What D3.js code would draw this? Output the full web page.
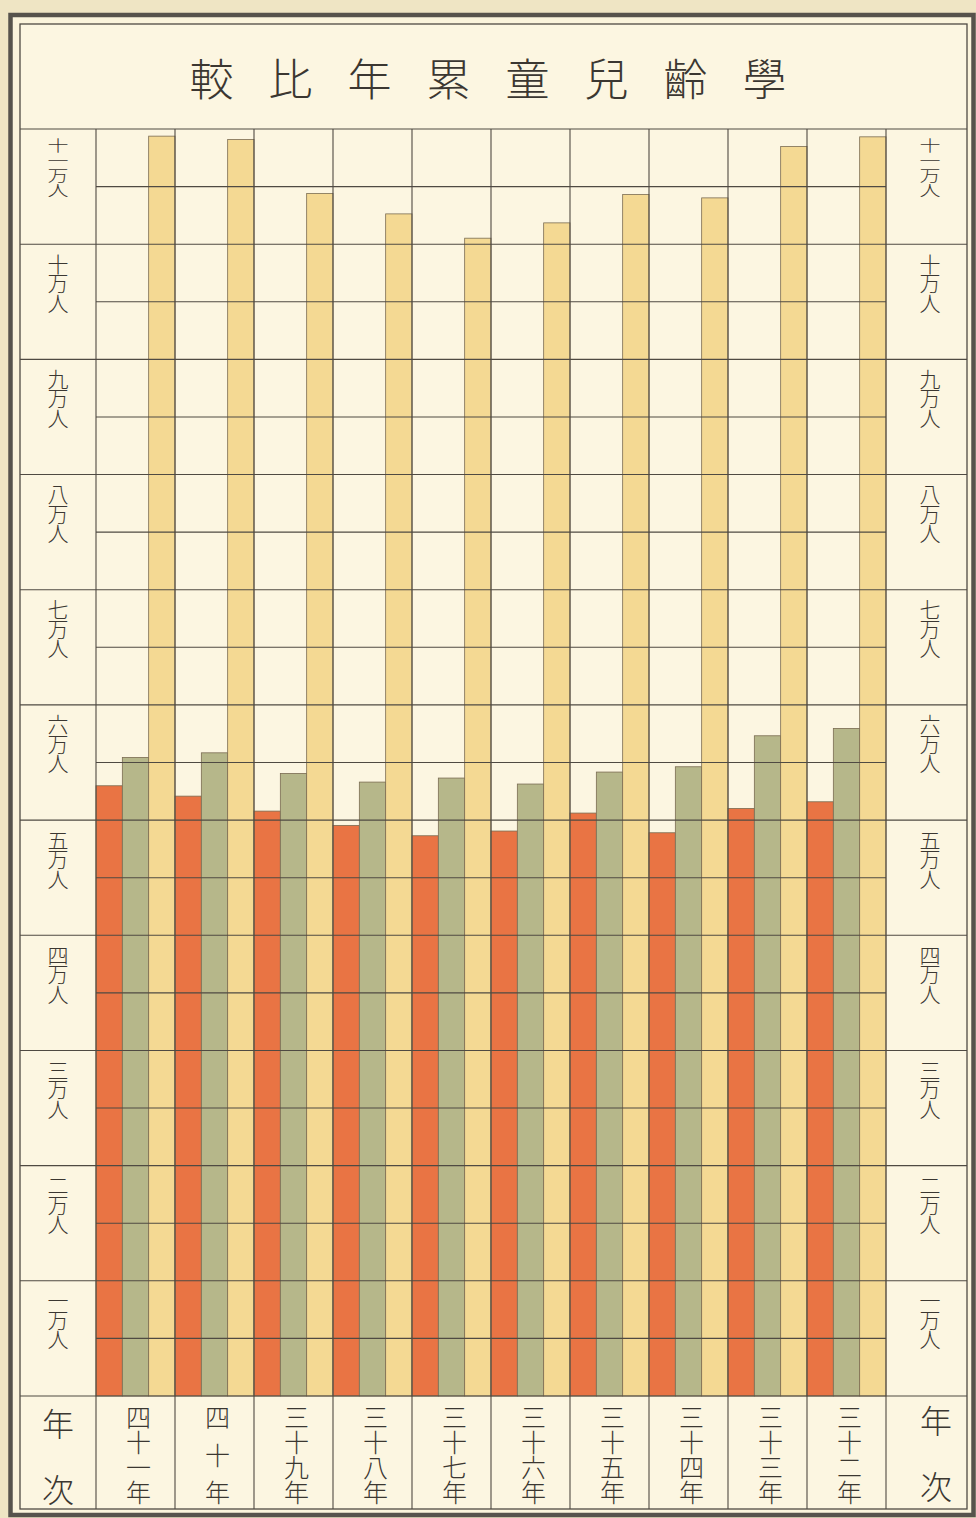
<!DOCTYPE html>
<html>
<head>
<meta charset="utf-8">
<script src="https://cdn.jsdelivr.net/npm/d3@7"></script>
<style>
  body { margin: 0; background: #efe5c4; }
  svg text { font-family: "Noto Sans CJK JP", "Noto Sans CJK TC", sans-serif; fill: #3b3731; font-weight: 300; }
  .vert { writing-mode: vertical-rl; text-orientation: upright; }
</style>
</head>
<body>
<div id="chart"></div>
<script>
// 明治三十二年〜四十一年 学齢児童
const title = "學齡兒童累年比較";
const years = ["四十一年", "四十年", "三十九年", "三十八年", "三十七年", "三十六年", "三十五年", "三十四年", "三十三年", "三十二年"];
const redValues    = [52980, 52080, 50780, 49540, 48640, 49050, 50610, 48900, 51010, 51590];
const greenValues  = [55440, 55840, 54050, 53300, 53650, 53130, 54170, 54630, 57320, 57960];
const yellowValues = [109380, 109080, 104400, 102630, 100520, 101850, 104310, 104020, 108480, 109320];
const tickValues = [10000, 20000, 30000, 40000, 50000, 60000, 70000, 80000, 90000, 100000, 110000];
const tickLabels = ["一万人", "二万人", "三万人", "四万人", "五万人", "六万人", "七万人", "八万人", "九万人", "十万人", "十一万人"];
const seriesKeys = ["red", "green", "yellow"];
const seriesColors = { red: "#e97444", green: "#b6b78a", yellow: "#f4d993" };

const W = 976, H = 1518;
const frame = { left: 20, right: 967, top: 24, bottom: 1509 };
const plot = { left: 96, right: 886, top: 129, bottom: 1396 };
const lineColor = "#4f4a42";

const svg = d3.select("#chart").append("svg")
  .attr("width", W).attr("height", H);

svg.append("rect").attr("width", W).attr("height", H).attr("fill", "#efe5c4");
svg.append("rect")
  .attr("x", 10.5).attr("y", 15).attr("width", 963).attr("height", 1500)
  .attr("fill", "#fbf4dc").attr("stroke", "#57534c").attr("stroke-width", 4.5);
svg.append("rect")
  .attr("x", frame.left).attr("y", frame.top)
  .attr("width", frame.right - frame.left).attr("height", frame.bottom - frame.top)
  .attr("fill", "#fcf6e1").attr("stroke", lineColor).attr("stroke-width", 1.3);

// title, read right to left
title.split("").forEach((c, i) => {
  svg.append("text")
    .attr("x", 488 + (3.5 - i) * 79)
    .attr("y", 77)
    .attr("text-anchor", "middle")
    .attr("dominant-baseline", "central")
    .attr("font-size", 44)
    .text(c);
});

const x = d3.scaleBand().domain(years).range([plot.left, plot.right]).padding(0);
const xs = d3.scaleBand().domain(seriesKeys).range([0, x.bandwidth()]).padding(0);
const y = d3.scaleLinear().domain([0, 110000]).range([plot.bottom, plot.top]);

const rows = years.map((yr, i) => ({ year: yr, red: redValues[i], green: greenValues[i], yellow: yellowValues[i] }));

// bars
const groups = svg.append("g").selectAll("g")
  .data(rows).join("g")
  .attr("transform", d => `translate(${x(d.year)},0)`);

groups.selectAll("rect")
  .data(d => seriesKeys.map(k => ({ key: k, value: d[k] })))
  .join("rect")
  .attr("x", d => xs(d.key))
  .attr("y", d => y(d.value))
  .attr("width", xs.bandwidth())
  .attr("height", d => y(0) - y(d.value))
  .attr("fill", d => seriesColors[d.key])
  .attr("stroke", "#7a6c52")
  .attr("stroke-width", 0.8);

// grid drawn over the bars, as printed
const grid = svg.append("g").attr("stroke", lineColor).attr("stroke-width", 1.1);
const minor = d3.range(5000, 110000, 10000);
grid.selectAll(".minor").data(minor).join("line")
  .attr("x1", plot.left).attr("x2", plot.right)
  .attr("y1", d => y(d)).attr("y2", d => y(d));
grid.selectAll(".major").data([0].concat(tickValues)).join("line")
  .attr("x1", frame.left).attr("x2", frame.right)
  .attr("y1", d => y(d)).attr("y2", d => y(d));
const vLines = years.map(d => x(d)).concat([plot.right]);
grid.selectAll(".v").data(vLines).join("line")
  .attr("x1", d => d).attr("x2", d => d)
  .attr("y1", plot.top).attr("y2", frame.bottom);

// vertical text helper: one text element, squeezed to a given length
function vtext(str, cx, top, len, size) {
  return svg.append("text")
    .attr("class", "vert")
    .attr("x", cx).attr("y", top)
    .attr("font-size", size)
    .attr("textLength", len)
    .attr("lengthAdjust", str.length > 3 ? "spacingAndGlyphs" : "spacing")
    .text(str);
}

tickValues.forEach((v, i) => {
  vtext(tickLabels[i], 58, y(v) + 9, 60, 21);
  vtext(tickLabels[i], 930, y(v) + 9, 60, 21);
});

// year labels in the bottom row
years.forEach(yr => {
  const cx = x(yr) + x.bandwidth() / 2 + 3;
  vtext(yr, cx, 1405, 100, 25);
});

[[58, 1408], [936, 1405]].forEach(([cx, top]) => {
  vtext("年次", cx, top, 98, 32);
});
</script>
</body>
</html>
